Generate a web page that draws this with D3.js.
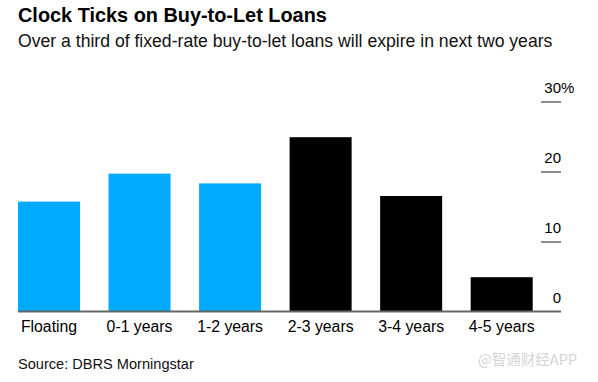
<!DOCTYPE html>
<html><head><meta charset="utf-8">
<script src="https://cdn.jsdelivr.net/npm/d3@7"></script>
<style>
html,body{margin:0;padding:0;background:#fff;}
svg{display:block;font-family:"Liberation Sans",Arial,Helvetica,sans-serif;}
</style></head>
<body>
<svg id="chart" width="598" height="382"></svg>
<script>
const categories = ["Floating","0-1 years","1-2 years","2-3 years","3-4 years","4-5 years"];
const values = [15.7, 19.7, 18.3, 24.9, 16.5, 4.9];
const barColors = ["#00aaff","#00aaff","#00aaff","#000000","#000000","#000000"];
const tickValues = [0, 10, 20, 30];
const title = "Clock Ticks on Buy-to-Let Loans";
const subtitle = "Over a third of fixed-rate buy-to-let loans will expire in next two years";
const source = "Source: DBRS Morningstar";
const watermark = "@智通财经APP";

const svg = d3.select("#chart");

function fit(sel, target){
  const node = sel.node();
  const fs = parseFloat(sel.attr("font-size"));
  const len = node.getComputedTextLength();
  if (len > 0) sel.attr("font-size", (fs * target / len).toFixed(2));
}

const t = svg.append("text").attr("x",18).attr("y",22.3).attr("font-size",20).attr("font-weight","bold").attr("fill","#000").text(title);
fit(t, 309);
const st = svg.append("text").attr("x",18).attr("y",47.3).attr("font-size",16).attr("fill","#111").text(subtitle);
fit(st, 535);

const x = d3.scaleBand().domain(categories).range([18, 532.7]).paddingInner(0.315).paddingOuter(0);
const y = d3.scaleLinear().domain([0, 30]).range([311.5, 101.5]);

svg.append("g").selectAll("rect").data(categories).join("rect")
  .attr("x", d => x(d))
  .attr("width", x.bandwidth())
  .attr("y", (d,i) => y(values[i]))
  .attr("height", (d,i) => y(0) - y(values[i]))
  .attr("fill", (d,i) => barColors[i]);

// y axis on right
const yAxis = d3.axisRight(y).tickValues(tickValues).tickSize(0).tickFormat(d => d);
const gy = svg.append("g").attr("transform","translate(561,0)").call(yAxis);
gy.select(".domain").remove();
gy.selectAll(".tick text").attr("x",0).attr("dy",0).attr("y",-9)
  .attr("text-anchor","end").attr("font-size",15).attr("font-family","Liberation Sans, Arial, sans-serif").attr("fill","#000");
gy.selectAll(".tick").filter(d => d === 30).append("text")
  .attr("x",0).attr("y",-9).attr("text-anchor","start").attr("font-size",15).attr("fill","#000").text("%");
gy.selectAll(".tick").filter(d => d !== 0).append("line")
  .attr("x1",-20).attr("x2",0).attr("y1",0).attr("y2",0).attr("stroke","#666").attr("stroke-width",1.5);

// baseline
svg.append("line").attr("x1",18).attr("x2",561).attr("y1",y(0)).attr("y2",y(0))
  .attr("stroke","#666").attr("stroke-width",2);

// x axis labels
const xAxis = d3.axisBottom(x).tickSize(0).tickPadding(0);
const gx = svg.append("g").attr("transform","translate(0,332.3)").call(xAxis);
gx.select(".domain").remove();
gx.selectAll(".tick text").attr("y",0).attr("dy",0).attr("font-size",15.8)
  .attr("font-family","Liberation Sans, Arial, sans-serif").attr("fill","#000");

const src = svg.append("text").attr("x",18).attr("y",369.3).attr("font-size",14).attr("fill","#111").text(source);
fit(src, 176);

svg.append("text").attr("x",577).attr("y",365).attr("text-anchor","end").attr("font-size",14.5)
  .attr("font-family","Noto Sans CJK SC, sans-serif").attr("fill","#d4d4d4").text(watermark);
</script>
</body></html>
